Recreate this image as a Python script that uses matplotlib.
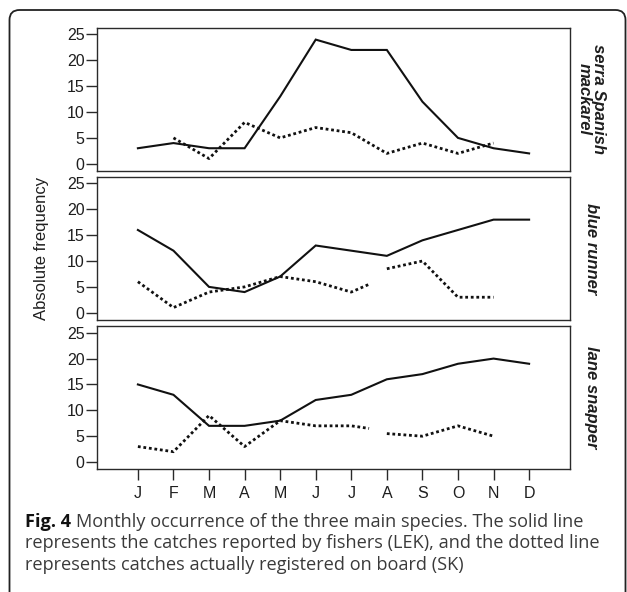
import numpy as np
import matplotlib
matplotlib.use("Agg")
import matplotlib.pyplot as plt
from matplotlib.patches import FancyBboxPatch

# data
months = ['J', 'F', 'M', 'A', 'M', 'J', 'J', 'A', 'S', 'O', 'N', 'D']
species = ['serra Spanish\nmackarel', 'blue runner', 'lane snapper']

# solid line: catches reported by fishers (LEK)
lek_serra = [3, 4, 3, 3, 13, 24, 22, 22, 12, 5, 3, 2]
lek_blue = [16, 12, 5, 4, 7, 13, 12, 11, 14, 16, 18, 18]
lek_lane = [15, 13, 7, 7, 8, 12, 13, 16, 17, 19, 20, 19]

# dotted line: catches registered on board (SK), None = no value
sk_serra = [None, 5, 1, 8, 5, 7, 6, 2, 4, 2, 4, None]
sk_blue = [6, 1, 4, 5, 7, 6, 4, 7, 10, 3, 3, None]
sk_lane = [3, 2, 9, 3, 8, 7, 7, 6, 5, 7, 5, None]
# month whose point is left out of the dotted line (only half segments drawn)
sk_gap = [None, 7, 7]

lek = [lek_serra, lek_blue, lek_lane]
sk = [sk_serra, sk_blue, sk_lane]

plt.rcParams['font.family'] = ['Liberation Sans', 'DejaVu Sans']

W, H = 627, 592
fig = plt.figure(figsize=(W / 100, H / 100), dpi=100)

# rounded frame around figure + caption
box = FancyBboxPatch((9.5 / 100, -0.5), (625.5 - 9.5) / 100, (H - 10) / 100 + 0.5,
                     boxstyle="round,pad=0,rounding_size=0.1",
                     transform=fig.dpi_scale_trans, fill=False,
                     ec='#222222', lw=1.3)
fig.patches.append(box)

x = np.arange(len(months))
left, width = 97 / W, 473 / W
tops = [27.7, 176.7, 326.0]
ph = 143.3

ink = '#2a2a2a'
txt = '#1e1e1e'
axes = []
for i in range(3):
    ax = fig.add_axes([left, 1 - (tops[i] + ph) / H, width, ph / H])
    axes.append(ax)
    ax.plot(x, lek[i], color='#111111', lw=1.5, solid_joinstyle='miter')

    y = np.array([np.nan if v is None else v for v in sk[i]], dtype=float)
    g = sk_gap[i]
    dot = dict(color='#111111', lw=2.0, linestyle=(0, (1, 1)), dash_capstyle='butt')
    if g is None:
        ax.plot(x, y, **dot)
    else:
        # draw up to half way towards the gap month and from half way after it
        xa = np.append(x[:g], (x[g - 1] + x[g]) / 2)
        ya = np.append(y[:g], (y[g - 1] + y[g]) / 2)
        xb = np.insert(x[g + 1:], 0, (x[g] + x[g + 1]) / 2)
        yb = np.insert(y[g + 1:], 0, (y[g] + y[g + 1]) / 2)
        ax.plot(xa, ya, **dot)
        ax.plot(xb, yb, **dot)

    ax.set_xlim(-1.15, 12.15)
    ax.set_ylim(-1.4, 26.3)
    ax.set_yticks([0, 5, 10, 15, 20, 25])
    ax.tick_params(axis='y', direction='out', length=8, width=1, color=ink,
                   labelsize=11.5, pad=1, labelcolor=txt)
    for s in ax.spines.values():
        s.set_color(ink)
        s.set_linewidth(1.0)
    if i < 2:
        ax.set_xticks([])
    else:
        ax.set_xticks(x)
        ax.set_xticklabels(months)
        ax.tick_params(axis='x', direction='out', length=8, width=1, color=ink,
                       labelsize=11.5, pad=4, labelcolor=txt)

    ax.text(1.0455, 0.5, species[i], transform=ax.transAxes, rotation=-90,
            ha='center', va='center', multialignment='center',
            fontsize=12, fontweight='bold', style='italic', color=txt,
            linespacing=0.95)

fig.text(41.7 / W, 1 - 248 / H, 'Absolute frequency', rotation=90,
         ha='center', va='center', fontsize=12, color=txt)

# caption
cap_font = ['Open Sans', 'DejaVu Sans']
cap_size = 13.1
cap_lines = [
    'Monthly occurrence of the three main species. The solid line',
    'represents the catches reported by fishers (LEK), and the dotted line',
    'represents catches actually registered on board (SK)',
]
base = [526.7, 548.0, 569.5]
fig.canvas.draw()
r = fig.canvas.get_renderer()
t0 = fig.text(25 / W, 1 - base[0] / H, 'Fig. 4', fontsize=cap_size, family=cap_font,
              fontweight='bold', color='#111111', va='baseline', ha='left')
bb = t0.get_window_extent(renderer=r)
sp = 5
fig.text((bb.x1 + sp) / W, 1 - base[0] / H, cap_lines[0], fontsize=cap_size,
         family=cap_font, color='#3a3a3a', va='baseline', ha='left')
for k in (1, 2):
    fig.text(25 / W, 1 - base[k] / H, cap_lines[k], fontsize=cap_size,
             family=cap_font, color='#3a3a3a', va='baseline', ha='left')

fig.savefig('out.png', dpi=100)
